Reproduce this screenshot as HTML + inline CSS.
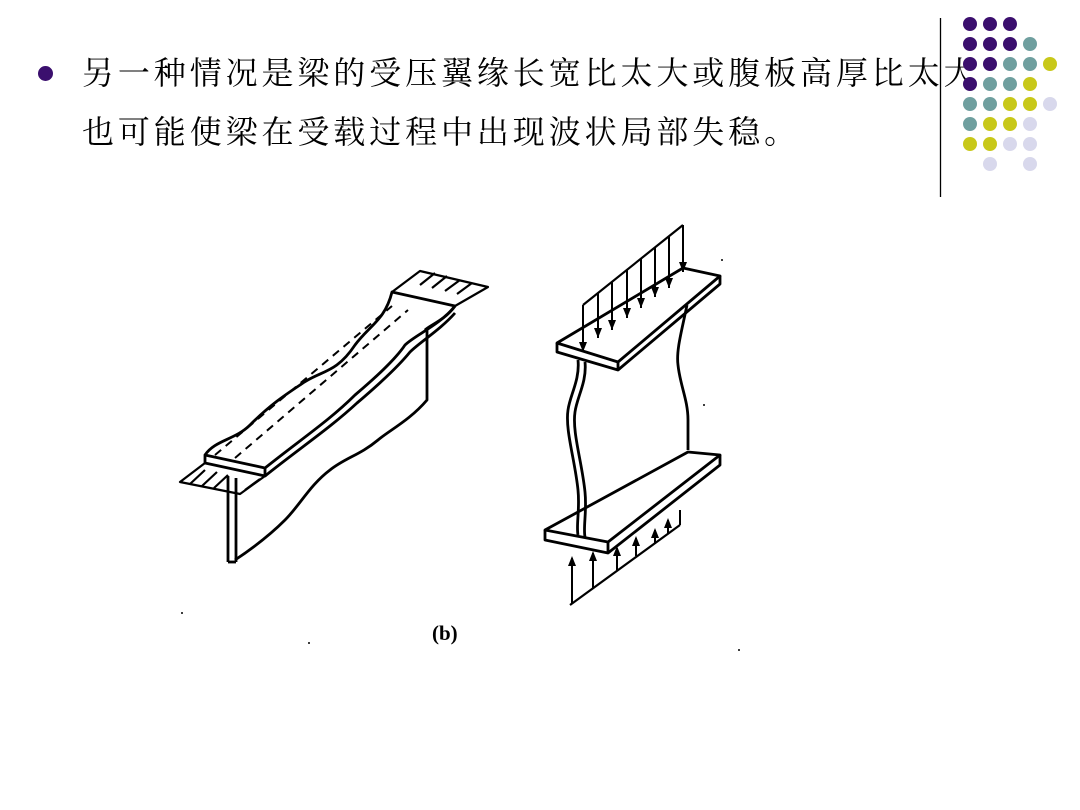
<!DOCTYPE html>
<html><head><meta charset="utf-8"><style>
html,body{margin:0;padding:0;background:#fff;}
body{width:1080px;height:810px;position:relative;overflow:hidden;}
.t{position:absolute;left:82px;font-family:"Liberation Serif","Noto Serif CJK SC",serif;font-size:32px;letter-spacing:3.9px;color:#000;white-space:nowrap;line-height:1;}
</style></head><body>
<div style="position:absolute;left:38px;top:66px;width:15px;height:15px;border-radius:50%;background:#3b0f6e"></div>
<div class="t" style="top:57px">另一种情况是梁的受压翼缘长宽比太大或腹板高厚比太大</div>
<div class="t" style="top:116px">也可能使梁在受载过程中出现波状局部失稳。</div>
<svg width="1080" height="810" style="position:absolute;left:0;top:0" xmlns="http://www.w3.org/2000/svg">
<line x1="940.5" y1="18" x2="940.5" y2="197" stroke="#000" stroke-width="1.3"/>
<g>
<circle cx="970" cy="24" r="7" fill="#3b0f6e"/><circle cx="990" cy="24" r="7" fill="#3b0f6e"/><circle cx="1010" cy="24" r="7" fill="#3b0f6e"/>
<circle cx="970" cy="44" r="7" fill="#3b0f6e"/><circle cx="990" cy="44" r="7" fill="#3b0f6e"/><circle cx="1010" cy="44" r="7" fill="#3b0f6e"/><circle cx="1030" cy="44" r="7" fill="#6f9f9f"/>
<circle cx="970" cy="64" r="7" fill="#3b0f6e"/><circle cx="990" cy="64" r="7" fill="#3b0f6e"/><circle cx="1010" cy="64" r="7" fill="#6f9f9f"/><circle cx="1030" cy="64" r="7" fill="#6f9f9f"/><circle cx="1050" cy="64" r="7" fill="#c8c81a"/>
<circle cx="970" cy="84" r="7" fill="#3b0f6e"/><circle cx="990" cy="84" r="7" fill="#6f9f9f"/><circle cx="1010" cy="84" r="7" fill="#6f9f9f"/><circle cx="1030" cy="84" r="7" fill="#c8c81a"/>
<circle cx="970" cy="104" r="7" fill="#6f9f9f"/><circle cx="990" cy="104" r="7" fill="#6f9f9f"/><circle cx="1010" cy="104" r="7" fill="#c8c81a"/><circle cx="1030" cy="104" r="7" fill="#c8c81a"/><circle cx="1050" cy="104" r="7" fill="#d8d8ec"/>
<circle cx="970" cy="124" r="7" fill="#6f9f9f"/><circle cx="990" cy="124" r="7" fill="#c8c81a"/><circle cx="1010" cy="124" r="7" fill="#c8c81a"/><circle cx="1030" cy="124" r="7" fill="#d8d8ec"/>
<circle cx="970" cy="144" r="7" fill="#c8c81a"/><circle cx="990" cy="144" r="7" fill="#c8c81a"/><circle cx="1010" cy="144" r="7" fill="#d8d8ec"/><circle cx="1030" cy="144" r="7" fill="#d8d8ec"/>
<circle cx="990" cy="164" r="7" fill="#d8d8ec"/><circle cx="1030" cy="164" r="7" fill="#d8d8ec"/>
</g>
<g fill="none" stroke="#000" stroke-width="2.8" stroke-linejoin="round">
<!-- left beam -->
<path d="M205,455 C215,440 235,440 250,425 C270,405 285,395 300,385 C320,370 335,375 355,345 C370,325 385,320 392,292 L455,306 C445,320 430,325 425,330"/>
<path d="M205,455 L265,468 L265,476 L205,463 Z"/>
<path d="M265,468 C300,440 330,420 355,395 C375,378 395,360 405,345 C415,335 440,325 455,306"/>
<path d="M265,476 C300,448 330,428 357,403 C377,386 397,368 410,352 C420,342 440,330 455,313"/>
<path d="M427,330 L427,400 C410,420 390,430 378,440 C360,455 345,458 330,470 C310,485 300,505 285,520 C270,535 250,550 235,560"/>
<line x1="228" y1="476" x2="228" y2="562"/><line x1="236" y1="478" x2="236" y2="562"/><line x1="228" y1="562" x2="236" y2="562"/>
<path d="M205,463 L180,482 L240,494 L265,476" stroke-width="2.2"/>
<path d="M392,292 L420,271 L488,287 L455,306" stroke-width="2.2"/>
<path d="M215,455 L392,306 M235,458 L408,310" stroke-dasharray="8,6" stroke-width="2"/>
<path d="M190,484 L205,470 M202,486 L217,472 M214,488 L228,475 M245,490 L260,479 M420,285 L435,273 M432,288 L447,276 M445,291 L460,280 M457,294 L472,283" stroke-width="2.2"/>
<!-- right beam -->
<path d="M557,343 L683,268 L720,276 L618,362 Z"/>
<path d="M557,343 L557,352 L618,370 L618,362 M618,370 L720,284 L720,276"/>
<path d="M583,305 L683,225" stroke-width="2.2"/>
<path d="M583,305 L583,352 M598,293 L598,338 M612,282 L612,330 M627,270 L627,318 M641,259 L641,308 M655,248 L655,297 M669,237 L669,288 M683,225 L683,272" stroke-width="2"/>
<path d="M578,360 C580,380 570,395 568,410 C565,430 575,460 578,490 C580,510 576,525 578,535"/>
<path d="M585,362 C587,382 577,397 575,412 C572,432 582,462 585,492 C587,512 583,527 585,537"/>
<path d="M687,305 C682,330 676,350 678,365 C680,385 688,400 688,420 L688,450"/>
<path d="M545,530 L688,452 L720,455 L608,542 Z"/>
<path d="M545,530 L545,540 L608,553 L608,542 M608,553 L720,465 L720,455"/>
<path d="M570,605 L680,525" stroke-width="2.2"/>
<path d="M572,603 L572,558 M593,588 L593,553 M617,570 L617,548 M636,556 L636,538 M655,544 L655,530 M668,534 L668,520 M680,525 L680,510" stroke-width="2"/>
</g>
<g fill="#000">
<path d="M583,352 l-4,-10 h8z M598,338 l-4,-10 h8z M612,330 l-4,-10 h8z M627,318 l-4,-10 h8z M641,308 l-4,-10 h8z M655,297 l-4,-10 h8z M669,288 l-4,-10 h8z M683,272 l-4,-10 h8z"/>
<path d="M572,556 l-4,10 h8z M593,551 l-4,10 h8z M617,546 l-4,10 h8z M636,536 l-4,10 h8z M655,528 l-4,10 h8z M668,518 l-4,10 h8z"/>
</g>
<text x="432" y="640" font-family="Liberation Serif,serif" font-weight="bold" font-size="21">(b)</text>
<circle cx="182" cy="613" r="1" fill="#000"/><circle cx="309" cy="643" r="1" fill="#000"/><circle cx="739" cy="650" r="1" fill="#000"/><circle cx="722" cy="260" r="1" fill="#000"/><circle cx="704" cy="405" r="1" fill="#000"/>
</svg>
</body></html>
